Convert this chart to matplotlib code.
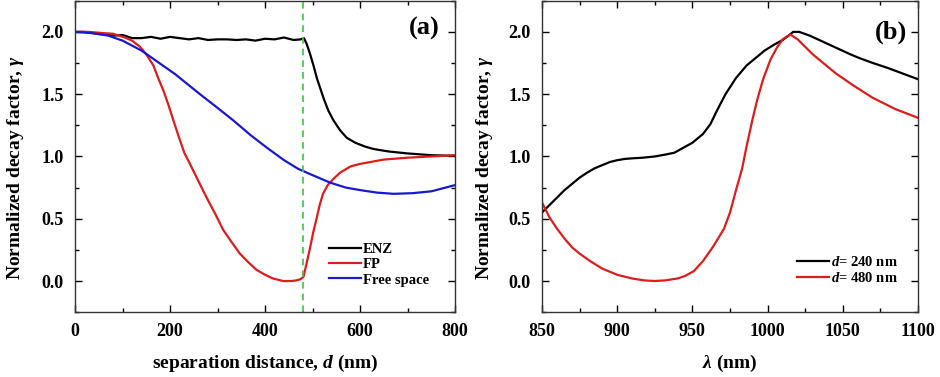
import numpy as np
import matplotlib
matplotlib.use('Agg')
import matplotlib.pyplot as plt
from matplotlib.ticker import MultipleLocator

plt.rcParams['font.family'] = 'Liberation Serif'
plt.rcParams['font.weight'] = 'bold'
plt.rcParams['axes.labelweight'] = 'bold'
plt.rcParams['mathtext.fontset'] = 'custom'
plt.rcParams['mathtext.rm'] = 'Liberation Serif:bold'
plt.rcParams['mathtext.it'] = 'Liberation Serif:italic:bold'
plt.rcParams['mathtext.bf'] = 'Liberation Serif:bold'

# panel (a): decay factor vs separation distance
d_enz = [0, 20, 40, 60, 80, 100, 120, 140, 160, 180, 200, 220, 240, 260, 280, 300,
         320, 340, 360, 380, 400, 420, 440, 460, 475, 482, 488, 495, 502, 509, 516,
         523, 533, 544, 558, 572, 590, 610, 628, 660, 698, 750, 800]
g_enz = [2.0, 2.0, 1.99, 1.98, 1.97, 1.975, 1.95, 1.95, 1.96, 1.945, 1.96, 1.95, 1.94,
         1.95, 1.935, 1.94, 1.94, 1.935, 1.94, 1.93, 1.945, 1.94, 1.955, 1.935, 1.94,
         1.95, 1.90, 1.82, 1.73, 1.63, 1.55, 1.47, 1.37, 1.29, 1.21, 1.15, 1.11, 1.08,
         1.06, 1.04, 1.025, 1.01, 1.005]

d_fp = [0, 30, 60, 80, 105, 120, 137, 150, 165, 175, 186, 197, 207, 220, 230, 242,
        260, 277, 295, 312, 330, 347, 365, 382, 400, 417, 438, 455, 466, 475, 481,
        488, 495, 502, 509, 515, 522, 532, 544, 558, 580, 600, 650, 700, 750, 800]
g_fp = [2.0, 2.0, 1.99, 1.985, 1.955, 1.93, 1.88, 1.82, 1.73, 1.63, 1.53, 1.41, 1.29,
        1.14, 1.03, 0.94, 0.80, 0.67, 0.54, 0.41, 0.31, 0.22, 0.15, 0.09, 0.05, 0.02,
        0.0, 0.0, 0.005, 0.015, 0.035, 0.15, 0.27, 0.40, 0.51, 0.61, 0.70, 0.77, 0.82,
        0.87, 0.92, 0.94, 0.975, 0.99, 1.0, 1.01]

d_free = [0, 35, 70, 100, 140, 170, 211, 263, 300, 333, 370, 404, 440, 470, 500, 537,
          570, 600, 635, 670, 710, 750, 800]
g_free = [2.0, 1.99, 1.97, 1.93, 1.85, 1.77, 1.66, 1.50, 1.39, 1.29, 1.17, 1.07, 0.97,
          0.90, 0.85, 0.79, 0.75, 0.73, 0.71, 0.70, 0.705, 0.72, 0.77]

d_mark = 480

# panel (b): decay factor vs wavelength
lam_240 = [850, 855, 860, 865, 870, 875, 880, 885, 890, 895, 900, 905, 910, 917, 925,
           932, 938, 944, 950, 957, 962, 966, 972, 979, 986, 993, 998, 1004, 1010,
           1014, 1017, 1021, 1028, 1037, 1046, 1055, 1061, 1070, 1080, 1090, 1100]
g_240 = [0.55, 0.61, 0.67, 0.73, 0.78, 0.83, 0.87, 0.905, 0.93, 0.955, 0.97, 0.98,
         0.985, 0.99, 1.0, 1.015, 1.03, 1.07, 1.11, 1.18, 1.26, 1.36, 1.50, 1.63, 1.73,
         1.80, 1.85, 1.895, 1.935, 1.97, 2.0, 2.0, 1.97, 1.92, 1.87, 1.82, 1.79, 1.75,
         1.71, 1.665, 1.62]

lam_480 = [850, 855, 860, 865, 870, 875, 882, 890, 900, 910, 918, 925, 932, 940, 945,
           951, 957, 964, 971, 975, 979, 983, 986, 990, 993, 997, 1002, 1006, 1010,
           1015, 1020, 1025, 1030, 1037, 1045, 1057, 1070, 1085, 1100]
g_480 = [0.63, 0.51, 0.42, 0.34, 0.27, 0.22, 0.16, 0.10, 0.05, 0.02, 0.005, 0.0,
         0.005, 0.02, 0.04, 0.08, 0.16, 0.28, 0.42, 0.55, 0.73, 0.90, 1.08, 1.30,
         1.45, 1.62, 1.78, 1.87, 1.94, 1.98, 1.94, 1.88, 1.82, 1.75, 1.67, 1.57, 1.47,
         1.38, 1.31]

fig = plt.figure(figsize=(9.4, 3.77), dpi=100)
ax1 = fig.add_axes([0.0798, 0.172, 0.4043, 0.826])
ax2 = fig.add_axes([0.5766, 0.172, 0.4, 0.826])

ax1.plot(d_enz, g_enz, color='black', lw=1.6, label='ENZ')
ax1.plot(d_fp, g_fp, color='#dd1c1c', lw=1.6, label='FP')
ax1.plot(d_free, g_free, color='#1818d0', lw=1.6, label='Free space')
ax1.axvline(d_mark, color='#33cc33', lw=1.2, ls=(0, (4, 3)))
ax1.set_xlim(0, 800)
ax1.xaxis.set_major_locator(MultipleLocator(200))
ax1.xaxis.set_minor_locator(MultipleLocator(100))
ax1.set_xlabel('separation distance, $d$ (nm)', fontsize=14, labelpad=9)
ax1.legend(loc='lower right', bbox_to_anchor=(0.965, 0.04), frameon=False,
           fontsize=10.5, handlelength=2.2, handletextpad=0.1, labelspacing=0.15)
ax1.text(0.96, 0.91, '(a)', transform=ax1.transAxes, ha='right', va='center',
         fontsize=19, fontweight='bold')

ax2.plot(lam_240, g_240, color='black', lw=1.6, label='$d$= 240 nm')
ax2.plot(lam_480, g_480, color='#dd1c1c', lw=1.6, label='$d$= 480 nm')
ax2.set_xlim(850, 1100)
ax2.xaxis.set_major_locator(MultipleLocator(50))
ax2.xaxis.set_minor_locator(MultipleLocator(25))
ax2.set_xlabel(r'$\lambda$ (nm)', fontsize=14, labelpad=9)
ax2.legend(loc='lower right', bbox_to_anchor=(0.98, 0.045), frameon=False,
           fontsize=10.5, handlelength=2.2, handletextpad=0.1, labelspacing=0.15)
ax2.text(0.97, 0.90, '(b)', transform=ax2.transAxes, ha='right', va='center',
         fontsize=19, fontweight='bold')

for ax in (ax1, ax2):
    ax.set_ylim(-0.25, 2.25)
    ax.yaxis.set_major_locator(MultipleLocator(0.5))
    ax.yaxis.set_minor_locator(MultipleLocator(0.25))
    ax.set_ylabel(r'Normalized decay factor, $\gamma$', fontsize=14)
    ax.tick_params(which='both', direction='in', top=True, right=True,
                   labelsize=13, width=1.0)
    ax.tick_params(which='major', length=5, pad=8)
    ax.tick_params(which='minor', length=3)
    for s in ax.spines.values():
        s.set_linewidth(1.0)
        s.set_color('#333333')

ax1.yaxis.set_label_coords(-0.13, 0.465)
ax2.yaxis.set_label_coords(-0.125, 0.465)

fig.savefig('out.png', dpi=100)
